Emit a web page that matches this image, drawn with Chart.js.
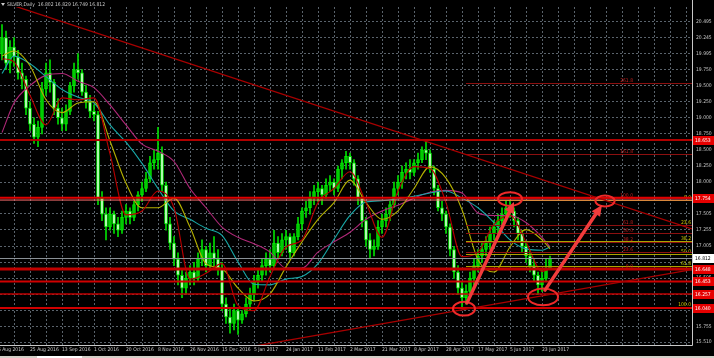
<!DOCTYPE html>
<html>
<head>
<meta charset="utf-8">
<script src="https://cdn.jsdelivr.net/npm/chart.js@4.4.1/dist/chart.umd.min.js"></script>
<style>
html,body{margin:0;padding:0;background:#000;overflow:hidden;}
canvas{display:block;}
</style>
</head>
<body>
<canvas id="chart" width="714" height="358"></canvas>
<script>
// SILVER, Daily -- one slot = two daily bars
const opens = [20.00,20.25,19.85,20.10,19.95,19.70,19.60,19.15,18.90,18.70,
  18.85,19.45,19.70,19.55,19.15,19.00,18.90,19.10,19.50,19.75,
  19.70,19.40,19.25,19.10,19.05,17.75,17.50,17.30,17.50,17.35,
  17.25,17.45,17.55,17.45,17.65,17.80,17.90,18.05,18.30,18.35,
  18.45,17.95,17.35,17.05,16.80,16.55,16.35,16.50,16.60,16.50,
  16.80,16.95,16.70,16.90,16.80,16.65,16.10,15.90,15.80,16.00,
  15.85,15.95,16.10,16.25,16.45,16.55,16.70,16.80,16.70,17.05,
  16.90,17.10,17.15,16.90,17.15,17.35,17.55,17.60,17.75,17.85,
  17.90,17.80,17.95,18.00,17.90,18.20,18.30,18.40,18.30,18.05,
  17.75,17.40,17.10,16.95,17.00,17.30,17.40,17.50,17.65,17.90,
  18.00,18.15,18.20,18.15,18.30,18.35,18.50,18.45,18.20,17.90,
  17.60,17.50,17.30,16.95,16.60,16.35,16.20,16.30,16.50,16.70,
  16.85,16.95,17.05,17.20,17.30,17.40,17.50,17.60,17.55,17.40,
  17.20,17.00,16.85,16.70,16.55,16.40,16.50,16.65];
const highs = [20.45,20.35,20.20,20.25,20.05,19.85,19.65,19.25,19.00,18.95,
  19.55,19.85,19.90,19.60,19.30,19.15,19.20,19.55,19.85,20.00,
  19.75,19.50,19.35,19.20,19.10,17.85,17.60,17.60,17.55,17.45,
  17.55,17.65,17.60,17.70,17.85,18.00,18.15,18.40,18.50,18.85,
  18.55,18.00,17.45,17.15,16.90,16.65,16.60,16.70,16.75,16.90,
  17.10,17.00,17.05,17.15,16.95,16.75,16.20,16.05,16.10,16.05,
  16.00,16.20,16.35,16.55,16.65,16.80,16.90,16.95,17.25,17.15,
  17.20,17.25,17.20,17.20,17.45,17.60,17.70,17.85,17.95,18.00,
  17.95,18.05,18.10,18.05,18.25,18.35,18.48,18.45,18.35,18.10,
  17.80,17.45,17.20,17.10,17.40,17.50,17.60,17.70,18.00,18.10,
  18.25,18.30,18.35,18.35,18.45,18.55,18.65,18.50,18.25,17.95,
  17.70,17.55,17.35,17.00,16.70,16.45,16.40,16.60,16.80,16.95,
  17.05,17.15,17.30,17.40,17.50,17.60,17.70,17.72,17.60,17.45,
  17.25,17.05,16.95,16.80,16.60,16.65,16.80,16.85];
const lows = [19.90,19.75,19.70,19.80,19.60,19.45,19.05,18.80,18.60,18.55,
  18.75,19.35,19.40,19.05,18.90,18.80,18.80,19.05,19.40,19.60,
  19.35,19.15,19.00,18.95,17.65,17.40,17.10,17.25,17.20,17.15,
  17.20,17.35,17.35,17.40,17.55,17.70,17.85,18.00,18.20,18.20,
  17.85,17.25,16.95,16.70,16.40,16.20,16.25,16.40,16.40,16.45,
  16.70,16.60,16.65,16.70,16.55,16.00,15.80,15.65,15.70,15.63,
  15.80,15.90,16.00,16.15,16.35,16.45,16.55,16.60,16.65,16.80,
  16.85,16.95,16.80,16.85,17.10,17.25,17.45,17.50,17.65,17.70,
  17.65,17.75,17.85,17.80,17.85,18.05,18.20,18.20,17.95,17.65,
  17.30,17.00,16.82,16.85,16.95,17.20,17.30,17.40,17.60,17.80,
  17.90,18.05,18.05,18.10,18.20,18.30,18.35,18.15,17.80,17.55,
  17.40,17.20,16.85,16.50,16.25,16.05,16.10,16.25,16.40,16.60,
  16.75,16.85,16.95,17.10,17.20,17.30,17.40,17.45,17.30,17.10,
  16.90,16.75,16.60,16.45,16.25,16.30,16.45,16.65];
const closes = [20.25,19.85,20.10,19.95,19.70,19.60,19.15,18.90,18.70,18.85,
  19.45,19.70,19.55,19.15,19.00,18.90,19.10,19.50,19.75,19.70,
  19.40,19.25,19.10,19.05,17.75,17.50,17.30,17.50,17.35,17.25,
  17.45,17.55,17.45,17.65,17.80,17.90,18.05,18.30,18.35,18.45,
  17.95,17.35,17.05,16.80,16.55,16.35,16.50,16.60,16.50,16.80,
  16.95,16.70,16.90,16.80,16.65,16.10,15.90,15.80,16.00,15.85,
  15.95,16.10,16.25,16.45,16.55,16.70,16.80,16.70,17.05,16.90,
  17.10,17.15,16.90,17.15,17.35,17.55,17.60,17.75,17.85,17.90,
  17.80,17.95,18.00,17.90,18.20,18.30,18.40,18.30,18.05,17.75,
  17.40,17.10,16.95,17.00,17.30,17.40,17.50,17.65,17.90,18.00,
  18.15,18.20,18.15,18.30,18.35,18.50,18.45,18.20,17.90,17.60,
  17.50,17.30,16.95,16.60,16.35,16.20,16.30,16.50,16.70,16.85,
  16.95,17.05,17.20,17.30,17.40,17.50,17.60,17.55,17.40,17.20,
  17.00,16.85,16.70,16.55,16.40,16.50,16.65,16.81];

// moving averages, read every 4 slots
const maUnits = [1,4,8,12,16,20,24,28,32,36,40,44,48,52,56,60,64,68,72,76,80,84,88,92,96,100,104,108,112,116,120,124,128,132,136,138];
const maRed = [19.92,19.87,19.35,18.89,19.31,19.28,19.31,18.44,17.49,17.55,17.86,17.60,16.49,16.58,16.73,16.08,16.00,16.53,16.99,17.10,17.68,17.90,18.16,17.68,17.14,17.86,18.24,18.21,17.68,16.84,16.91,17.34,17.48,17.07,16.61,16.65];
const maYellow = [19.96,20.04,19.81,19.28,19.08,19.23,19.25,18.64,17.98,17.60,17.60,17.75,17.30,16.73,16.65,16.35,16.15,16.26,16.68,17.07,17.42,17.68,18.03,17.68,17.42,17.55,17.90,18.24,18.06,17.57,16.79,16.60,16.99,17.26,17.10,16.96];
const maCyan = [19.69,19.96,19.84,19.64,19.44,19.32,19.23,18.89,18.62,18.29,17.90,17.55,17.42,17.28,17.17,16.76,16.41,16.40,16.49,16.53,16.73,17.11,17.48,17.69,17.71,17.74,17.78,17.83,17.86,17.75,17.60,17.37,17.10,16.96,16.94,16.99];
const maMagenta = [18.77,19.23,19.50,19.66,19.69,19.57,19.47,19.20,18.89,18.59,18.48,18.32,17.90,17.60,17.30,17.14,17.04,16.91,16.66,16.66,16.91,17.07,17.22,17.42,17.55,17.64,17.75,17.84,17.87,17.83,17.52,17.48,17.48,17.37,17.14,16.99];

// axes
const dateLabels = ['6 Aug 2016','25 Aug 2016','13 Sep 2016','1 Oct 2016','20 Oct 2016','8 Nov 2016','26 Nov 2016','15 Dec 2016','5 Jan 2017','24 Jan 2017','11 Feb 2017','2 Mar 2017','21 Mar 2017','8 Apr 2017','28 Apr 2017','17 May 2017','5 Jun 2017','23 Jun 2017'];
const dateUnits = [-2,6,14,22,30,38,46,54,62,70,78,86,94,102,110,118,126,134];
const gridUnits = [2,6,10,14,18,22,26,30,34,38,42,46,50,54,58,62,66,70,74,78,82,86,90,94,98,102,106,110,114,118,122,126,130,134,138,142,146,150,154,158,162,166,170];
const priceTicks = [20.495,20.245,19.995,19.75,19.5,19.25,19.0,18.75,18.5,18.25,18.0,17.755,17.505,17.255,17.005,16.755,16.505,16.255,16.005,15.755,15.51];
const priceTickLabels = ['20.495','20.245','19.995','19.750','19.500','19.250','19.000','18.750','18.500','18.250','18.000','17.755','17.505','17.255','17.005','16.755','16.505','16.255','16.005','15.755','15.510'];

// chart objects
const levelPrices = [18.653, 17.754, 17.72, 16.648, 16.453, 16.257, 16.040];
const lastPrice = 16.812;
const tagPrices = [18.653, 17.754, 16.648, 16.453, 16.257, 16.040];
const tagLabels = ['18.653','17.754','16.648','16.453','16.257','16.040'];
const trendLines = [[27.25, 20.266, 160.5, 17.538], [110.5, 15.952, 173.5, 16.638]];
const fibRed = {from: 117, labelAt: 158.75, low: 16.648, high: 17.754, levels: [0, 23.6, 38.2, 50, 61.8, 100, 161.8, 261.8]};
const fibYellow = {from: 117, labelAt: 173.25, low: 16.05, high: 17.72, levels: [0, 23.6, 38.2, 50, 61.8, 100]};
const ellipses = [[125, 17.843, 131, 17.629], [149.35, 17.789, 154.15, 17.621], [113.75, 16.136, 119.25, 15.922], [132.5, 16.342, 140, 16.082]];
const arrows = [[117.25, 16.120, 129, 17.690], [136.75, 16.318, 151, 17.644]];

const FAMILY = '"Liberation Sans Narrow", "DejaVu Sans Condensed", "Liberation Sans"';
const FONT = '5px ' + FAMILY;
const levelStyle = [['#b00000',2],['#e00000',2],['#ff7070',1],['#c00000',3],['#d00000',2],['#c00000',1.5],['#d00000',2]];

function drawArrow(ctx, x1, y1, x2, y2) {
    const a = Math.atan2(y2 - y1, x2 - x1), L = 11, W = 5;
    const bx = x2 - L * Math.cos(a), by = y2 - L * Math.sin(a);
    ctx.beginPath(); ctx.moveTo(x1, y1); ctx.lineTo(bx, by); ctx.stroke();
    ctx.beginPath(); ctx.moveTo(x2, y2);
    ctx.lineTo(bx + W * Math.sin(a), by - W * Math.cos(a));
    ctx.lineTo(bx - W * Math.sin(a), by + W * Math.cos(a));
    ctx.closePath(); ctx.fill();
}

function drawFib(ctx, area, x, y, fib, lineColor, textColor, up) {
    ctx.font = FONT; ctx.textAlign = 'right'; ctx.textBaseline = 'bottom';
    fib.levels.forEach(l => {
        const p = up ? fib.low + (fib.high - fib.low) * l / 100 : fib.high - (fib.high - fib.low) * l / 100;
        const yy = Math.round(y.getPixelForValue(p)) + 0.5;
        ctx.strokeStyle = lineColor; ctx.lineWidth = 1;
        ctx.beginPath(); ctx.moveTo(x.getPixelForValue(fib.from), yy); ctx.lineTo(area.right, yy); ctx.stroke();
        ctx.fillStyle = textColor;
        ctx.fillText(l.toFixed(1), x.getPixelForValue(fib.labelAt), yy - 0.5);
    });
}

const mtObjects = {
    id: 'mtObjects',
    beforeDraw(chart) {
        const ctx = chart.ctx;
        ctx.save(); ctx.fillStyle = '#000'; ctx.fillRect(0, 0, chart.width, chart.height); ctx.restore();
    },
    afterDatasetsDraw(chart) {
        const {ctx, chartArea: a, scales: {x, y}} = chart;
        ctx.save();
        ctx.beginPath(); ctx.rect(a.left, a.top, a.right - a.left, a.bottom - a.top); ctx.clip();

        // fib tools
        drawFib(ctx, a, x, y, fibYellow, '#aaa400', '#c8c800', false);
        drawFib(ctx, a, x, y, fibRed, '#8c1010', '#c02020', true);

        // last price line
        let yy = Math.round(y.getPixelForValue(lastPrice)) + 0.5;
        ctx.strokeStyle = '#8a9096'; ctx.lineWidth = 1;
        ctx.beginPath(); ctx.moveTo(a.left, yy); ctx.lineTo(a.right, yy); ctx.stroke();

        // horizontal levels
        levelPrices.forEach((p, i) => {
            const yp = y.getPixelForValue(p);
            ctx.strokeStyle = levelStyle[i][0]; ctx.lineWidth = levelStyle[i][1];
            ctx.beginPath(); ctx.moveTo(a.left, yp); ctx.lineTo(a.right, yp); ctx.stroke();
        });

        // trend lines, extended over the whole window
        ctx.strokeStyle = '#a80000'; ctx.lineWidth = 1.3;
        trendLines.forEach(t => {
            const k = (t[3] - t[1]) / (t[2] - t[0]);
            const u0 = x.min, u1 = x.max;
            ctx.beginPath();
            ctx.moveTo(x.getPixelForValue(u0), y.getPixelForValue(t[1] + k * (u0 - t[0])));
            ctx.lineTo(x.getPixelForValue(u1), y.getPixelForValue(t[1] + k * (u1 - t[0])));
            ctx.stroke();
        });

        // ellipses
        ctx.strokeStyle = '#ee2a2a'; ctx.lineWidth = 2;
        ellipses.forEach(e => {
            const x1 = x.getPixelForValue(e[0]), x2 = x.getPixelForValue(e[2]);
            const y1 = y.getPixelForValue(e[1]), y2 = y.getPixelForValue(e[3]);
            ctx.beginPath();
            ctx.ellipse((x1 + x2) / 2, (y1 + y2) / 2, Math.abs(x2 - x1) / 2, Math.abs(y2 - y1) / 2, 0, 0, Math.PI * 2);
            ctx.stroke();
        });

        // arrows
        ctx.strokeStyle = '#f23c3c'; ctx.fillStyle = '#f23c3c'; ctx.lineWidth = 3.5; ctx.lineCap = 'round';
        arrows.forEach(r => drawArrow(ctx, x.getPixelForValue(r[0]), y.getPixelForValue(r[1]), x.getPixelForValue(r[2]), y.getPixelForValue(r[3])));
        ctx.restore();
    },
    afterDraw(chart) {
        const {ctx, chartArea: a, scales: {x, y}} = chart;
        ctx.save();
        // window frame
        ctx.strokeStyle = '#c8c8c8'; ctx.lineWidth = 1;
        ctx.beginPath();
        ctx.moveTo(a.right + 0.5, 0); ctx.lineTo(a.right + 0.5, a.bottom + 0.5); ctx.lineTo(0, a.bottom + 0.5);
        ctx.stroke();

        ctx.font = FONT; ctx.textBaseline = 'middle';
        // first date label, cut by the left edge
        ctx.fillStyle = '#c8c8c8'; ctx.textAlign = 'left';
        ctx.fillText(dateLabels[0], x.getPixelForValue(dateUnits[0]) + 8, a.bottom + 5);

        // price tags on the axis
        tagPrices.forEach((p, i) => {
            const yp = Math.round(y.getPixelForValue(p));
            ctx.fillStyle = '#e60000'; ctx.fillRect(a.right + 1, yp - 4, chart.width - a.right - 1, 9);
            ctx.fillStyle = '#ffffff'; ctx.fillText(tagLabels[i], a.right + 3, yp + 0.5);
        });
        const yl = Math.round(y.getPixelForValue(lastPrice));
        ctx.fillStyle = '#ffffff'; ctx.fillRect(a.right + 1, yl - 4, chart.width - a.right - 1, 9);
        ctx.fillStyle = '#000000'; ctx.fillText(lastPrice.toFixed(3), a.right + 3, yl + 0.5);

        // title
        ctx.fillStyle = '#c8c8c8';
        ctx.beginPath(); ctx.moveTo(1, 3); ctx.lineTo(5, 3); ctx.lineTo(3, 6); ctx.closePath(); ctx.fill();
        ctx.fillText('SILVER,Daily  16.802 16.829 16.749 16.812', 7, 5);

        // bottom strip of the terminal window
        ctx.fillStyle = '#d4d0c8'; ctx.fillRect(0, 356, chart.width, 2);
        ctx.fillStyle = '#ffffff'; ctx.fillRect(37, 356, 45, 2);
        ctx.restore();
    }
};

const slots = closes.map((c, i) => i + 1);

new Chart(document.getElementById('chart'), {
    type: 'bar',
    data: {
        datasets: [
            {type: 'line', data: maUnits.map((u, i) => ({x: u, y: maRed[i]})), borderColor: '#b80000', borderWidth: 1.1, pointRadius: 0, cubicInterpolationMode: 'monotone', order: 1},
            {type: 'line', data: maUnits.map((u, i) => ({x: u, y: maYellow[i]})), borderColor: '#b4b000', borderWidth: 1.1, pointRadius: 0, cubicInterpolationMode: 'monotone', order: 1},
            {type: 'line', data: maUnits.map((u, i) => ({x: u, y: maCyan[i]})), borderColor: '#18a8a8', borderWidth: 1.1, pointRadius: 0, cubicInterpolationMode: 'monotone', order: 1},
            {type: 'line', data: maUnits.map((u, i) => ({x: u, y: maMagenta[i]})), borderColor: '#b02878', borderWidth: 1.1, pointRadius: 0, cubicInterpolationMode: 'monotone', order: 1},
            {data: slots.map((u, i) => ({x: u, y: [opens[i], closes[i]]})),
             backgroundColor: slots.map((u, i) => closes[i] >= opens[i] ? '#00c800' : '#d2ffd2'),
             borderColor: '#00ee00', borderWidth: 1, borderSkipped: false, barThickness: 3, grouped: false, order: 2},
            {data: slots.map((u, i) => ({x: u, y: [lows[i], highs[i]]})),
             backgroundColor: '#00dd00', barThickness: 1, grouped: false, order: 3}
        ]
    },
    options: {
        responsive: false,
        animation: false,
        devicePixelRatio: 1,
        layout: {padding: 0},
        plugins: {legend: {display: false}, tooltip: {enabled: false}},
        scales: {
            x: {
                type: 'linear', min: 0.5, max: 173.5, offset: false,
                afterBuildTicks: s => { s.ticks = gridUnits.map(v => ({value: v})); },
                ticks: {autoSkip: false, maxRotation: 0, minRotation: 0, align: 'start', labelOffset: 8, padding: 2, color: '#c8c8c8', font: {family: FAMILY, size: 5},
                    callback: v => { const k = dateUnits.indexOf(v); return k < 0 ? '' : dateLabels[k]; }},
                grid: {color: '#5a636c', lineWidth: 1, drawTicks: false},
                border: {display: false, dash: [2, 2]},
                afterFit: s => { s.height = 13; }
            },
            y: {
                position: 'right', min: 15.4645, max: 20.724,
                afterBuildTicks: s => { s.ticks = priceTicks.map(v => ({value: v})); },
                ticks: {color: '#c8c8c8', padding: 4, font: {family: FAMILY, size: 5},
                    callback: (v, i) => priceTickLabels[i]},
                grid: {color: '#5a636c', lineWidth: 1, drawTicks: false},
                border: {display: false, dash: [2, 2]},
                afterFit: s => { s.width = 22; }
            }
        }
    },
    plugins: [mtObjects]
});
</script>
</body>
</html>
